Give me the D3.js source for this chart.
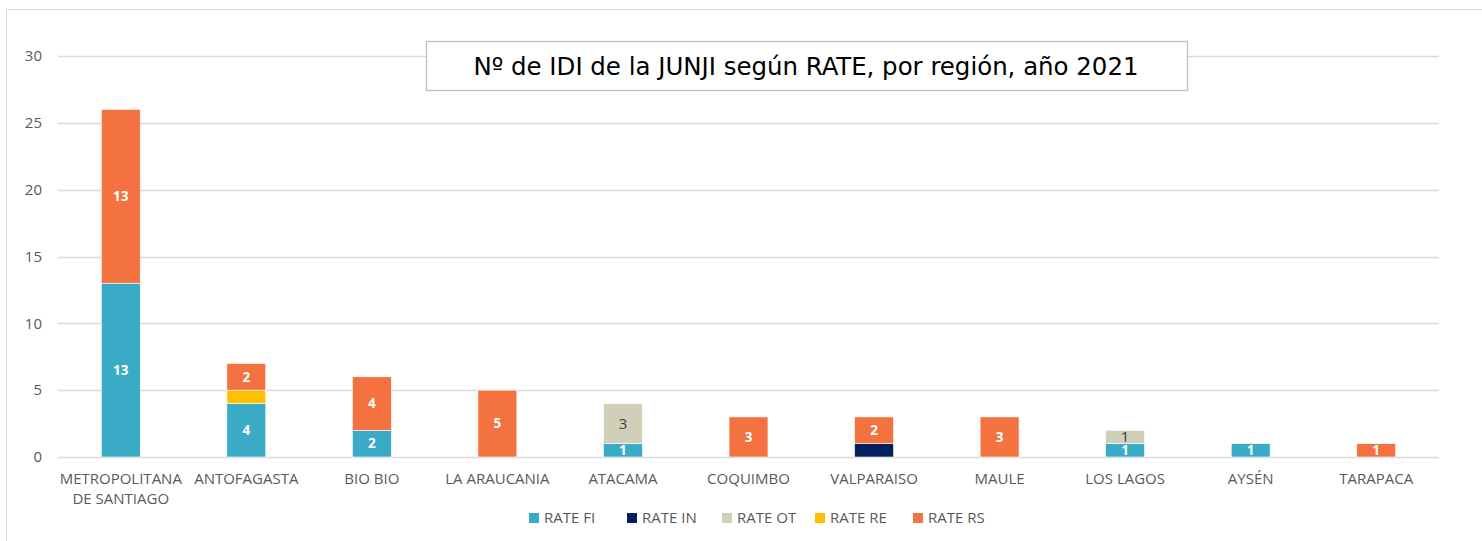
<!DOCTYPE html>
<html lang="es">
<head>
  <meta charset="UTF-8">
  <title>IDI JUNJI según RATE 2021</title>
  <script src="https://d3js.org/d3.v7.min.js"></script>
  <style>
    body { margin: 0; background: #fff; }
    svg { display: block; }
    .tick-label, .cat-label, .legend-label { font-family: "Open Sans", sans-serif; fill: #595959; }
  </style>
</head>
<body>
  <div id="chart"></div>
  <script>
    const regions = ["METROPOLITANA\nDE SANTIAGO", "ANTOFAGASTA", "BIO BIO", "LA ARAUCANIA", "ATACAMA",
                     "COQUIMBO", "VALPARAISO", "MAULE", "LOS LAGOS", "AYSÉN", "TARAPACA"];
    const series = ["RATE FI", "RATE IN", "RATE OT", "RATE RE", "RATE RS"];
    const rateFI = [13, 4, 2, 0, 1, 0, 0, 0, 1, 1, 0];
    const rateIN = [0, 0, 0, 0, 0, 0, 1, 0, 0, 0, 0];
    const rateOT = [0, 0, 0, 0, 3, 0, 0, 0, 1, 0, 0];
    const rateRE = [0, 1, 0, 0, 0, 0, 0, 0, 0, 0, 0];
    const rateRS = [13, 2, 4, 5, 0, 3, 2, 3, 0, 0, 1];
    const yTicks = [0, 5, 10, 15, 20, 25, 30];
    const colors = ["#3aabc6", "#002060", "#d0d0b8", "#ffc000", "#f47240"];
    // which series show their value on the bar
    const showLabel = [true, false, true, false, true];

    const width = 1482, height = 541;
    const values = [rateFI, rateIN, rateOT, rateRE, rateRS];
    const table = regions.map((r, i) => {
      const row = { region: r };
      series.forEach((s, j) => row[s] = values[j][i]);
      return row;
    });

    const svg = d3.select("#chart").append("svg")
      .attr("width", width)
      .attr("height", height);

    // outer chart border (only top and left visible in the crop)
    svg.append("rect")
      .attr("x", 6.5).attr("y", 9.5)
      .attr("width", width + 20).attr("height", height + 20)
      .attr("fill", "none")
      .attr("stroke", "#d9d9d9");

    const x = d3.scaleBand()
      .domain(regions)
      .range([58, 1439])
      .paddingInner(0.69)
      .paddingOuter(0.345);

    const y = d3.scaleLinear()
      .domain([0, 30])
      .range([457, 56]);

    // gridlines
    svg.append("g")
      .selectAll("line")
      .data(yTicks)
      .join("line")
      .attr("x1", 58).attr("x2", 1439)
      .attr("y1", d => Math.round(y(d)) + 0.5)
      .attr("y2", d => Math.round(y(d)) + 0.5)
      .attr("stroke", "#d9d9d9")
      .attr("stroke-width", 1.3);

    svg.append("g")
      .selectAll("text")
      .data(yTicks)
      .join("text")
      .attr("class", "tick-label")
      .attr("x", 42)
      .attr("y", d => y(d))
      .attr("dy", "0.35em")
      .attr("text-anchor", "end")
      .attr("font-size", 15)
      .text(d => d);

    const stacked = d3.stack().keys(series)(table);

    const layer = svg.append("g")
      .selectAll("g")
      .data(stacked)
      .join("g")
      .attr("fill", (d, i) => colors[i]);

    layer.selectAll("rect")
      .data(d => d.map(p => ({ p, key: d.key })))
      .join("rect")
      .attr("x", d => x(d.p.data.region))
      .attr("width", x.bandwidth())
      .attr("y", d => y(d.p[1]))
      .attr("height", d => y(d.p[0]) - y(d.p[1]))
      .attr("stroke", "#fff")
      .attr("stroke-width", 0.6);

    // value labels
    const labelG = svg.append("g");
    stacked.forEach((s, i) => {
      if (!showLabel[i]) return;
      s.forEach(p => {
        const v = p[1] - p[0];
        if (v <= 0) return;
        const dark = series[i] === "RATE OT";
        labelG.append("text")
          .attr("x", x(p.data.region) + x.bandwidth() / 2)
          .attr("y", y((p[0] + p[1]) / 2))
          .attr("dy", "0.36em")
          .attr("text-anchor", "middle")
          .attr("font-family", "'Open Sans', sans-serif")
          .attr("font-size", dark ? 15 : 13.5)
          .attr("font-weight", dark ? "normal" : "bold")
          .attr("fill", dark ? "#404040" : "#ffffff")
          .text(v);
      });
    });

    // category labels
    svg.append("g")
      .selectAll("text")
      .data(regions)
      .join("text")
      .attr("class", "cat-label")
      .attr("x", d => x(d) + x.bandwidth() / 2)
      .attr("y", 484)
      .attr("text-anchor", "middle")
      .attr("font-size", 15)
      .each(function(d) {
        const t = d3.select(this);
        d.split("\n").forEach((line, k) => {
          t.append("tspan")
            .attr("x", x(d) + x.bandwidth() / 2)
            .attr("dy", k === 0 ? 0 : 20)
            .text(line);
        });
      });

    // legend
    const legendX = [529, 627, 722, 815, 913];
    const legend = svg.append("g")
      .selectAll("g")
      .data(series)
      .join("g")
      .attr("transform", (d, i) => `translate(${legendX[i]},513)`);
    legend.append("rect")
      .attr("width", 10).attr("height", 10)
      .attr("fill", (d, i) => colors[i]);
    legend.append("text")
      .attr("class", "legend-label")
      .attr("x", 15).attr("y", 5)
      .attr("dy", "0.36em")
      .attr("font-size", 15)
      .text(d => d);

    // title box
    svg.append("rect")
      .attr("x", 426.5).attr("y", 41.5)
      .attr("width", 761).attr("height", 49)
      .attr("fill", "#fff")
      .attr("stroke", "#bfbfbf")
      .attr("stroke-width", 1.3);
    svg.append("text")
      .attr("x", 806)
      .attr("y", 66)
      .attr("dy", "0.35em")
      .attr("text-anchor", "middle")
      .attr("font-family", "'DejaVu Sans Condensed', 'DejaVu Sans', sans-serif")
      .attr("font-size", 25)
      .attr("textLength", 665)
      .attr("lengthAdjust", "spacingAndGlyphs")
      .attr("fill", "#000")
      .text("Nº de IDI de la JUNJI según RATE, por región, año 2021");
  </script>
</body>
</html>
